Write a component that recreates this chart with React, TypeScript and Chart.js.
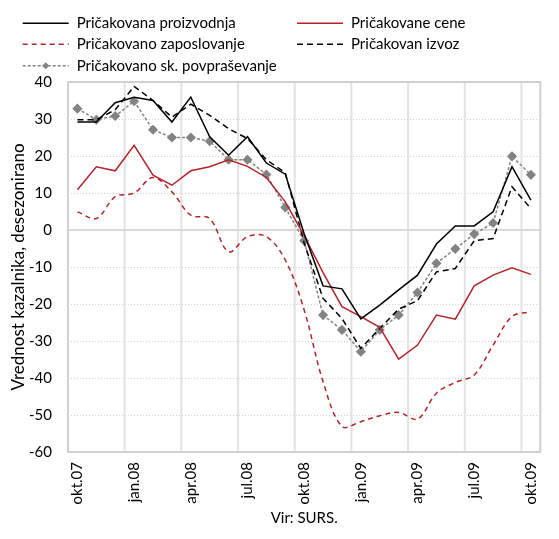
import React, { useEffect, useRef } from 'react';
import { Chart, registerables } from 'chart.js';

Chart.register(...registerables);

const months = ['okt.07','nov.07','dec.07','jan.08','feb.08','mar.08','apr.08','maj.08','jun.08','jul.08','avg.08','sep.08','okt.08','nov.08','dec.08','jan.09','feb.09','mar.09','apr.09','maj.09','jun.09','jul.09','avg.09','sep.09','okt.09'];

const proizvodnja = [29.2, 29.2, 34.4, 35.9, 35.0, 29.2, 35.9, 25.2, 20.2, 25.2, 18.1, 15.1, -1.0, -15.1, -15.9, -24.0, -20.3, -16.2, -12.2, -3.8, 1.1, 1.1, 4.9, 17.1, 8.1];
const cene = [10.9, 17.1, 16.0, 22.9, 14.8, 12.1, 16.0, 17.1, 19.0, 17.2, 14.2, 7.6, -1.5, -11.5, -20.7, -23.4, -26.3, -34.9, -31.1, -23.0, -24.1, -15.1, -12.2, -10.2, -12.0];
const zaposlovanje = [4.9, 3.1, 9.0, 10.0, 14.2, 10.3, 4.0, 3.1, -5.9, -1.8, -1.8, -8.1, -21.6, -41.0, -53.1, -51.8, -50.2, -49.3, -51.1, -44.1, -41.2, -39.2, -31.1, -23.4, -22.1];
const izvoz = [29.8, 29.8, 32.5, 38.8, 35.0, 30.5, 34.0, 31.0, 27.4, 24.7, 19.0, 15.5, -3.5, -18.5, -23.9, -32.0, -26.6, -21.4, -19.1, -11.3, -10.4, -2.9, -2.3, 11.7, 5.8];
const povprasevanje = [32.8, 29.8, 30.8, 34.8, 27.1, 25.0, 25.0, 24.0, 19.0, 19.0, 15.0, 6.1, -2.9, -23.0, -27.0, -32.9, -27.0, -23.0, -16.9, -9.0, -5.1, -1.1, 1.9, 19.9, 14.9];

const FONT = 'Lato';
const RED = '#b0242b';
const GRAY = '#838383';
const GRID = '#d9d9d9';

const legendItems = [
  { label: 'Pričakovana proizvodnja', color: '#000', dash: [] as number[], marker: false, col: 0, row: 0 },
  { label: 'Pričakovane cene', color: RED, dash: [] as number[], marker: false, col: 1, row: 0 },
  { label: 'Pričakovano zaposlovanje', color: RED, dash: [5, 4], marker: false, col: 0, row: 1 },
  { label: 'Pričakovan izvoz', color: '#000', dash: [6, 4], marker: false, col: 1, row: 1 },
  { label: 'Pričakovano sk. povpraševanje', color: GRAY, dash: [3, 2], marker: true, col: 0, row: 2 },
];

const gridPlugin = {
  id: 'customGrid',
  beforeDatasetsDraw(chart: any) {
    const { ctx, chartArea: a, scales } = chart;
    const y = scales.y;
    const x = scales.x;
    ctx.save();
    for (let v = -50; v <= 30; v += 10) {
      if (v === 0) continue;
      const py = Math.round(y.getPixelForValue(v)) + 0.5;
      ctx.beginPath();
      ctx.setLineDash([1, 2]);
      ctx.strokeStyle = '#cfcfcf';
      ctx.lineWidth = 1;
      ctx.moveTo(a.left, py);
      ctx.lineTo(a.right, py);
      ctx.stroke();
    }
    ctx.setLineDash([]);
    const half = (x.getPixelForValue(1) - x.getPixelForValue(0)) / 2;
    for (let i = 3; i < months.length; i += 3) {
      const px = x.getPixelForValue(i) - half;
      ctx.beginPath();
      ctx.strokeStyle = '#e2e2e2';
      ctx.lineWidth = 2;
      ctx.moveTo(px, a.top);
      ctx.lineTo(px, a.bottom);
      ctx.stroke();
    }
    const py0 = y.getPixelForValue(0);
    ctx.beginPath();
    ctx.strokeStyle = GRID;
    ctx.lineWidth = 2;
    ctx.moveTo(a.left, py0);
    ctx.lineTo(a.right, py0);
    ctx.stroke();
    ctx.strokeStyle = '#d0d0d0';
    ctx.lineWidth = 2;
    ctx.strokeRect(a.left, a.top, a.right - a.left, a.bottom - a.top);
    ctx.restore();
  },
};

const legendPlugin = {
  id: 'customLegend',
  afterDraw(chart: any) {
    const { ctx } = chart;
    ctx.save();
    ctx.font = `15px ${FONT}`;
    ctx.textBaseline = 'middle';
    ctx.textAlign = 'left';
    const colX = [22.7, 297];
    const rowY = [23.3, 44.3, 65.7];
    legendItems.forEach((it) => {
      const x0 = colX[it.col];
      const yy = rowY[it.row];
      ctx.beginPath();
      ctx.setLineDash(it.dash);
      ctx.strokeStyle = it.color;
      ctx.lineWidth = 1.5;
      ctx.moveTo(x0, yy);
      ctx.lineTo(x0 + 46, yy);
      ctx.stroke();
      ctx.setLineDash([]);
      if (it.marker) {
        const cx = x0 + 23;
        ctx.beginPath();
        ctx.fillStyle = it.color;
        ctx.moveTo(cx, yy - 3.5);
        ctx.lineTo(cx + 3.5, yy);
        ctx.lineTo(cx, yy + 3.5);
        ctx.lineTo(cx - 3.5, yy);
        ctx.closePath();
        ctx.fill();
      }
      ctx.fillStyle = '#000';
      ctx.fillText(it.label, x0 + 54, yy);
    });
    ctx.restore();
  },
};

export default function App() {
  const ref = useRef<HTMLCanvasElement | null>(null);
  useEffect(() => {
    if (!ref.current) return;
    const chart = new Chart(ref.current, {
      type: 'line',
      data: {
        labels: months,
        datasets: [
          { label: 'Pričakovana proizvodnja', data: proizvodnja, borderColor: '#000', borderWidth: 1.5, pointRadius: 0, tension: 0 },
          { label: 'Pričakovane cene', data: cene, borderColor: RED, borderWidth: 1.5, pointRadius: 0, tension: 0 },
          { label: 'Pričakovano zaposlovanje', data: zaposlovanje, borderColor: RED, borderWidth: 1.5, borderDash: [5, 4], pointRadius: 0, tension: 0.35 },
          { label: 'Pričakovan izvoz', data: izvoz, borderColor: '#000', borderWidth: 1.5, borderDash: [6, 4], pointRadius: 0, tension: 0 },
          { label: 'Pričakovano sk. povpraševanje', data: povprasevanje, borderColor: GRAY, backgroundColor: GRAY, borderWidth: 1.5, borderDash: [3, 2], pointRadius: 4, pointStyle: 'rectRot', pointBorderColor: GRAY, pointBackgroundColor: GRAY, tension: 0 },
        ],
      },
      options: {
        responsive: false,
        animation: false,
        layout: { padding: { top: 82, right: 2, left: 8, bottom: 0 } },
        plugins: { legend: { display: false }, tooltip: { enabled: false } },
        scales: {
          x: {
            type: 'category',
            offset: true,
            grid: { display: false, drawTicks: false },
            border: { display: false },
            ticks: {
              autoSkip: false,
              maxRotation: 90,
              minRotation: 90,
              padding: 10,
              color: '#000',
              font: { family: FONT, size: 15 },
              callback: (_v: any, i: number) => (i % 3 === 0 ? months[i] : ''),
            },
            title: { display: true, text: 'Vir: SURS.', color: '#000', font: { family: FONT, size: 15 }, padding: { top: 0, bottom: 12 } },
            afterFit: (s: any) => { s.height = 87; },
          },
          y: {
            min: -60,
            max: 40,
            grid: { display: false, drawTicks: false },
            border: { display: false },
            ticks: { stepSize: 10, padding: 16, color: '#000', font: { family: FONT, size: 15 } },
            title: { display: true, text: 'Vrednost kazalnika, desezonirano', color: '#000', font: { family: FONT, size: 17 }, padding: { top: 0, bottom: 0 } },
            afterFit: (s: any) => { s.width = 60; },
          },
        },
      },
      plugins: [gridPlugin, legendPlugin],
    });
    return () => chart.destroy();
  }, []);
  return (
    <div style={{ position: 'absolute', left: 0, top: 0, width: 559, height: 539 }}>
      <canvas ref={ref} width={559} height={539} />
    </div>
  );
}
